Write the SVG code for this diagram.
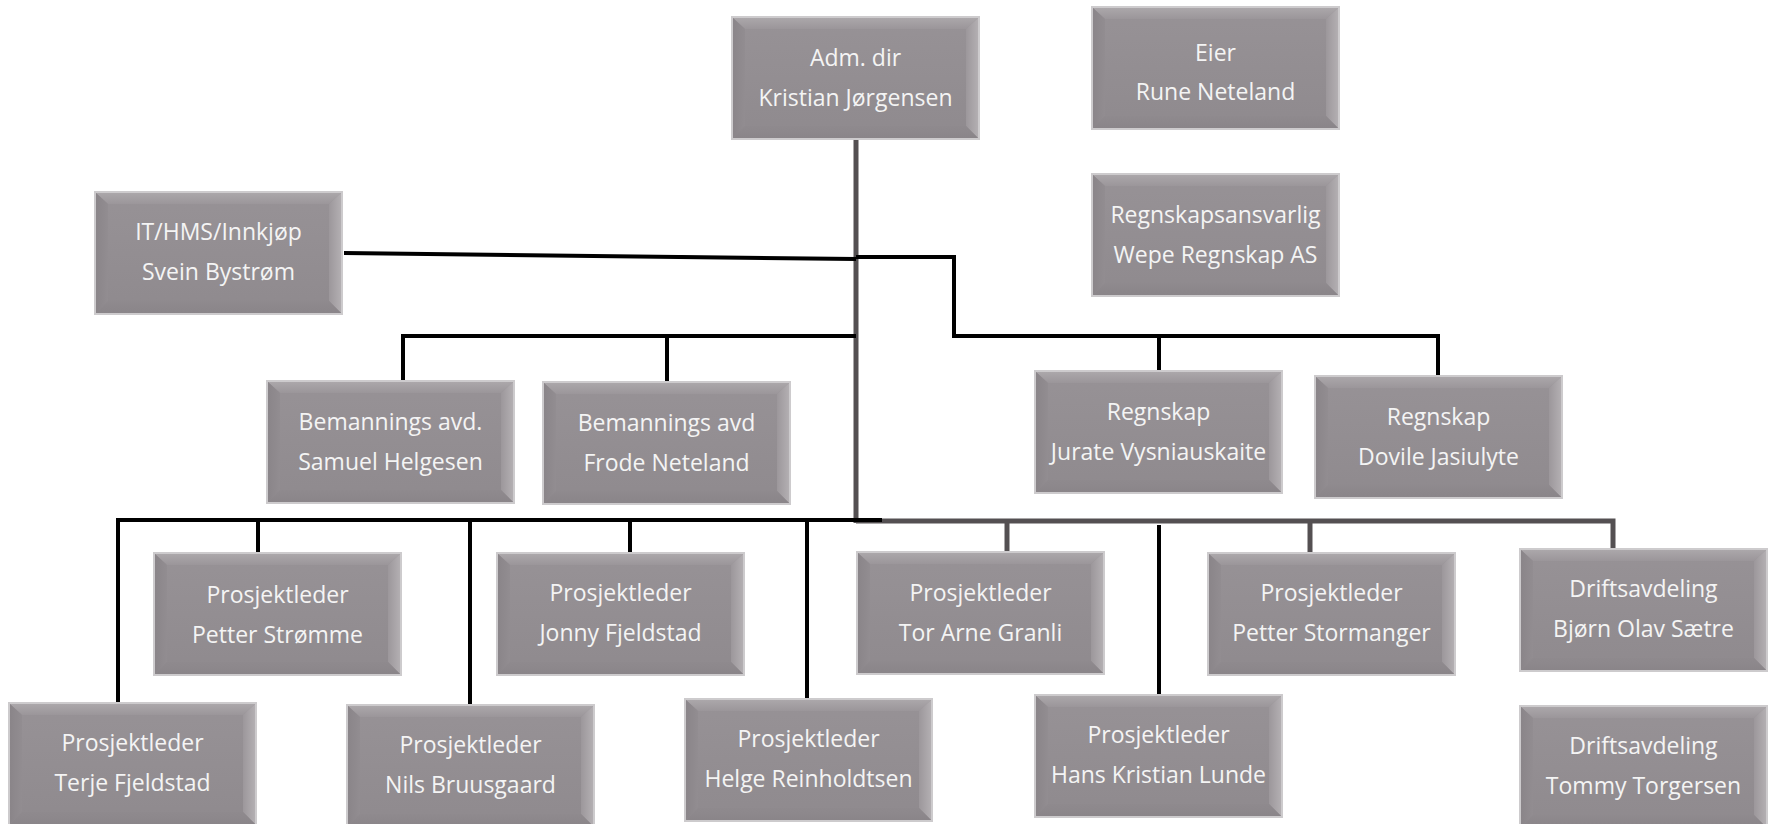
<svg xmlns="http://www.w3.org/2000/svg" xmlns:xlink="http://www.w3.org/1999/xlink" width="1772" height="824" viewBox="0 0 1772 824">
<style>
  .t { font-family: "Open Sans", "Liberation Sans", sans-serif; font-size: 23px; fill: #f4f4f4; text-anchor: middle; }
  .blk { fill: none; stroke: #000000; stroke-width: 4; stroke-linejoin: miter; }
  .gry { fill: none; stroke: #545052; stroke-width: 5; stroke-linejoin: miter; }
</style>
<defs>
  <linearGradient id="gc" x1="0" y1="0" x2="0" y2="1">
    <stop offset="0" stop-color="#979296"/>
    <stop offset="1" stop-color="#8f8a8e"/>
  </linearGradient>
  <linearGradient id="gt" x1="0" y1="0" x2="0" y2="1">
    <stop offset="0" stop-color="#aba7aa"/>
    <stop offset="1" stop-color="#9b969a"/>
  </linearGradient>
  <linearGradient id="gl" x1="0" y1="0" x2="1" y2="0">
    <stop offset="0" stop-color="#8a8589"/>
    <stop offset="1" stop-color="#928d91"/>
  </linearGradient>
  <linearGradient id="gr" x1="0" y1="0" x2="1" y2="0">
    <stop offset="0" stop-color="#9c979b"/>
    <stop offset="1" stop-color="#b3afb2"/>
  </linearGradient>
  <linearGradient id="gb" x1="0" y1="0" x2="0" y2="1">
    <stop offset="0" stop-color="#8f8a8e"/>
    <stop offset="1" stop-color="#8a8589"/>
  </linearGradient>
  <g id="bx">
    <rect x="0" y="0" width="249" height="124" fill="#cdcbcd"/>
    <rect x="2" y="2" width="245" height="120" fill="url(#gc)"/>
    <polygon points="2,2 247,2 235,13 14,13" fill="url(#gt)"/>
    <polygon points="2,2 14,13 14,110 2,122" fill="url(#gl)"/>
    <polygon points="247,2 247,122 235,110 235,13" fill="url(#gr)"/>
    <polygon points="2,122 14,110 235,110 247,122" fill="url(#gb)"/>
  </g>
</defs>
<rect x="0" y="0" width="1772" height="824" fill="#ffffff"/>

<g id="connectors">
  <path class="gry" d="M856,140 V523"/>
  <path class="gry" d="M856,521 H1613 V548"/>
  <path class="gry" d="M1007,521 V551"/>
  <path class="gry" d="M1310,521 V552"/>
  <path class="blk" d="M344,253 L856,259"/>
  <path class="blk" d="M856,257 H954 V336 H1438 V375"/>
  <path class="blk" d="M1159,336 V370"/>
  <path class="blk" d="M856,336 H403 V381"/>
  <path class="blk" d="M667,336 V381"/>
  <path class="blk" d="M118,702 V520 H882"/>
  <path class="blk" d="M258,520 V552"/>
  <path class="blk" d="M470,520 V704"/>
  <path class="blk" d="M630,520 V552"/>
  <path class="blk" d="M807,520 V698"/>
  <path class="blk" d="M1159,525 V694"/>
</g>

<g id="adm" transform="translate(731,16)"><use xlink:href="#bx" href="#bx"/><text class="t" x="124.5" y="50">Adm. dir</text><text class="t" x="124.5" y="90">Kristian Jørgensen</text></g>
<g id="eier" transform="translate(1091,6)"><use xlink:href="#bx" href="#bx"/><text class="t" x="124.5" y="55">Eier</text><text class="t" x="124.5" y="94">Rune Neteland</text></g>
<g id="regnskapsansvarlig" transform="translate(1091,173)"><use xlink:href="#bx" href="#bx"/><text class="t" x="124.5" y="50">Regnskapsansvarlig</text><text class="t" x="124.5" y="90">Wepe Regnskap AS</text></g>
<g id="it" transform="translate(94,191)"><use xlink:href="#bx" href="#bx"/><text class="t" x="124.5" y="49">IT/HMS/Innkjøp</text><text class="t" x="124.5" y="89">Svein Bystrøm</text></g>
<g id="bem1" transform="translate(266,380)"><use xlink:href="#bx" href="#bx"/><text class="t" x="124.5" y="50">Bemannings avd.</text><text class="t" x="124.5" y="90">Samuel Helgesen</text></g>
<g id="bem2" transform="translate(542,381)"><use xlink:href="#bx" href="#bx"/><text class="t" x="124.5" y="50">Bemannings avd</text><text class="t" x="124.5" y="90">Frode Neteland</text></g>
<g id="regn1" transform="translate(1034,370)"><use xlink:href="#bx" href="#bx"/><text class="t" x="124.5" y="50">Regnskap</text><text class="t" x="124.5" y="90">Jurate Vysniauskaite</text></g>
<g id="regn2" transform="translate(1314,375)"><use xlink:href="#bx" href="#bx"/><text class="t" x="124.5" y="50">Regnskap</text><text class="t" x="124.5" y="90">Dovile Jasiulyte</text></g>
<g id="pl-petter-s" transform="translate(153,552)"><use xlink:href="#bx" href="#bx"/><text class="t" x="124.5" y="51">Prosjektleder</text><text class="t" x="124.5" y="91">Petter Strømme</text></g>
<g id="pl-jonny" transform="translate(496,552)"><use xlink:href="#bx" href="#bx"/><text class="t" x="124.5" y="49">Prosjektleder</text><text class="t" x="124.5" y="89">Jonny Fjeldstad</text></g>
<g id="pl-tor" transform="translate(856,551)"><use xlink:href="#bx" href="#bx"/><text class="t" x="124.5" y="50">Prosjektleder</text><text class="t" x="124.5" y="90">Tor Arne Granli</text></g>
<g id="pl-stormanger" transform="translate(1207,552)"><use xlink:href="#bx" href="#bx"/><text class="t" x="124.5" y="49">Prosjektleder</text><text class="t" x="124.5" y="89">Petter Stormanger</text></g>
<g id="drift-bjorn" transform="translate(1519,548)"><use xlink:href="#bx" href="#bx"/><text class="t" x="124.5" y="49">Driftsavdeling</text><text class="t" x="124.5" y="89">Bjørn Olav Sætre</text></g>
<g id="pl-terje" transform="translate(8,702)"><use xlink:href="#bx" href="#bx"/><text class="t" x="124.5" y="49">Prosjektleder</text><text class="t" x="124.5" y="89">Terje Fjeldstad</text></g>
<g id="pl-nils" transform="translate(346,704)"><use xlink:href="#bx" href="#bx"/><text class="t" x="124.5" y="49">Prosjektleder</text><text class="t" x="124.5" y="89">Nils Bruusgaard</text></g>
<g id="pl-helge" transform="translate(684,698)"><use xlink:href="#bx" href="#bx"/><text class="t" x="124.5" y="49">Prosjektleder</text><text class="t" x="124.5" y="89">Helge Reinholdtsen</text></g>
<g id="pl-hans" transform="translate(1034,694)"><use xlink:href="#bx" href="#bx"/><text class="t" x="124.5" y="49">Prosjektleder</text><text class="t" x="124.5" y="89">Hans Kristian Lunde</text></g>
<g id="drift-tommy" transform="translate(1519,705)"><use xlink:href="#bx" href="#bx"/><text class="t" x="124.5" y="49">Driftsavdeling</text><text class="t" x="124.5" y="89">Tommy Torgersen</text></g>
</svg>
